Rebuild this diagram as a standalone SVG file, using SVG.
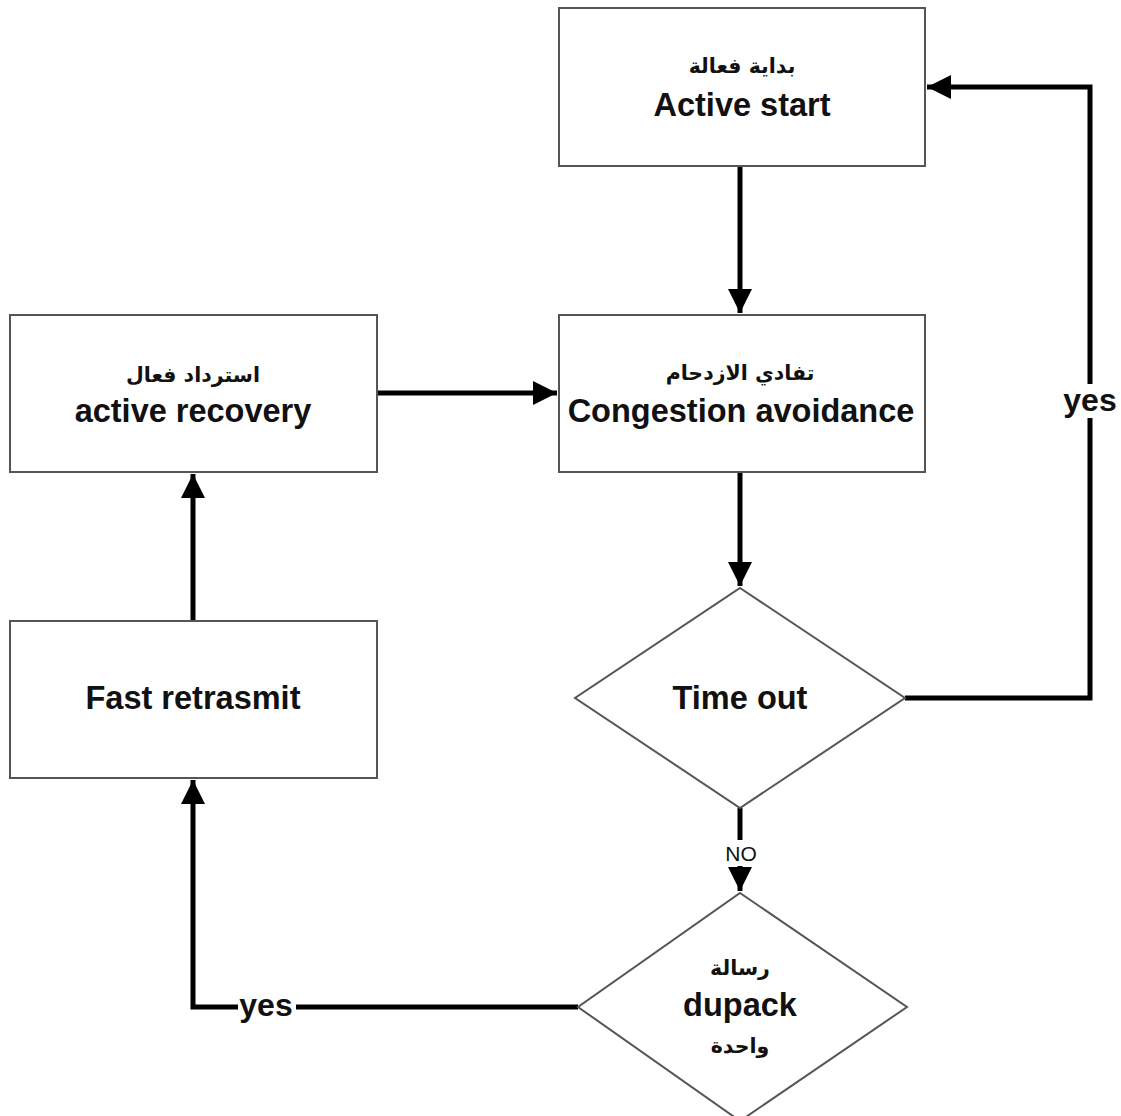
<svg xmlns="http://www.w3.org/2000/svg" width="1121" height="1116" viewBox="0 0 1121 1116">
<style>
.box{fill:#fff;stroke:#555;stroke-width:2}
.en{font-family:"Liberation Sans",Arial,sans-serif;font-weight:bold;font-size:32.5px;fill:#111;text-anchor:middle}
.ar{font-family:"DejaVu Sans","Noto Sans",sans-serif;font-weight:bold;font-size:20.5px;fill:#111;text-anchor:middle}
.lbl{font-family:"Liberation Sans",Arial,sans-serif;font-weight:bold;font-size:32px;fill:#111;text-anchor:middle}
.no{font-family:"Liberation Sans",Arial,sans-serif;font-size:21px;fill:#111;text-anchor:middle}
.conn{fill:none;stroke:#000;stroke-width:5;stroke-linejoin:miter}
</style>
<defs>
<marker id="ah" markerUnits="userSpaceOnUse" markerWidth="26" markerHeight="26" refX="24" refY="12" orient="auto" viewBox="0 0 26 26">
<path d="M0,0 L24,12 L0,24 z" fill="#000"/>
</marker>
</defs>
<rect width="1121" height="1116" fill="#fff"/>
<g id="connectors">
<path class="conn" d="M740,166 L740,313" marker-end="url(#ah)"/>
<path class="conn" d="M740,472 L740,586" marker-end="url(#ah)"/>
<path class="conn" d="M905,698 L1090,698 L1090,87 L927,87" marker-end="url(#ah)"/>
<path class="conn" d="M740,808 L740,891" marker-end="url(#ah)"/>
<path class="conn" d="M578,1007 L193,1007 L193,780" marker-end="url(#ah)"/>
<path class="conn" d="M193,621 L193,474" marker-end="url(#ah)"/>
<path class="conn" d="M377,393 L557,393" marker-end="url(#ah)"/>
<rect x="1062" y="384" width="56" height="34" fill="#fff"/>
<text class="lbl" x="1090" y="411">yes</text>
<rect x="724" y="840" width="34" height="26" fill="#fff"/>
<text class="no" x="741" y="861">NO</text>
<rect x="238" y="990" width="58" height="34" fill="#fff"/>
<text class="lbl" x="266" y="1016">yes</text>
</g>
<g id="active-start">
<rect class="box" x="559" y="8" width="366" height="158"/>
<text class="ar" x="742" y="73">بداية فعالة</text>
<text class="en" x="742" y="116">Active start</text>
</g>
<g id="congestion-avoidance">
<rect class="box" x="559" y="315" width="366" height="157"/>
<text class="ar" x="740" y="380">تفادي الازدحام</text>
<text class="en" x="741" y="422">Congestion avoidance</text>
</g>
<g id="active-recovery">
<rect class="box" x="10" y="315" width="367" height="157"/>
<text class="ar" x="193" y="382">استرداد فعال</text>
<text class="en" x="193" y="422">active recovery</text>
</g>
<g id="fast-retrasmit">
<rect class="box" x="10" y="621" width="367" height="157"/>
<text class="en" x="193" y="709">Fast retrasmit</text>
</g>
<g id="time-out">
<polygon class="box" points="740,588 905,698 740,808 575,698"/>
<text class="en" x="740" y="709">Time out</text>
</g>
<g id="dupack">
<polygon class="box" points="740,893 907,1007 740,1121 578,1007"/>
<text class="ar" x="740" y="975">رسالة</text>
<text class="en" x="740" y="1016">dupack</text>
<text class="ar" x="740" y="1053">واحدة</text>
</g>
</svg>
